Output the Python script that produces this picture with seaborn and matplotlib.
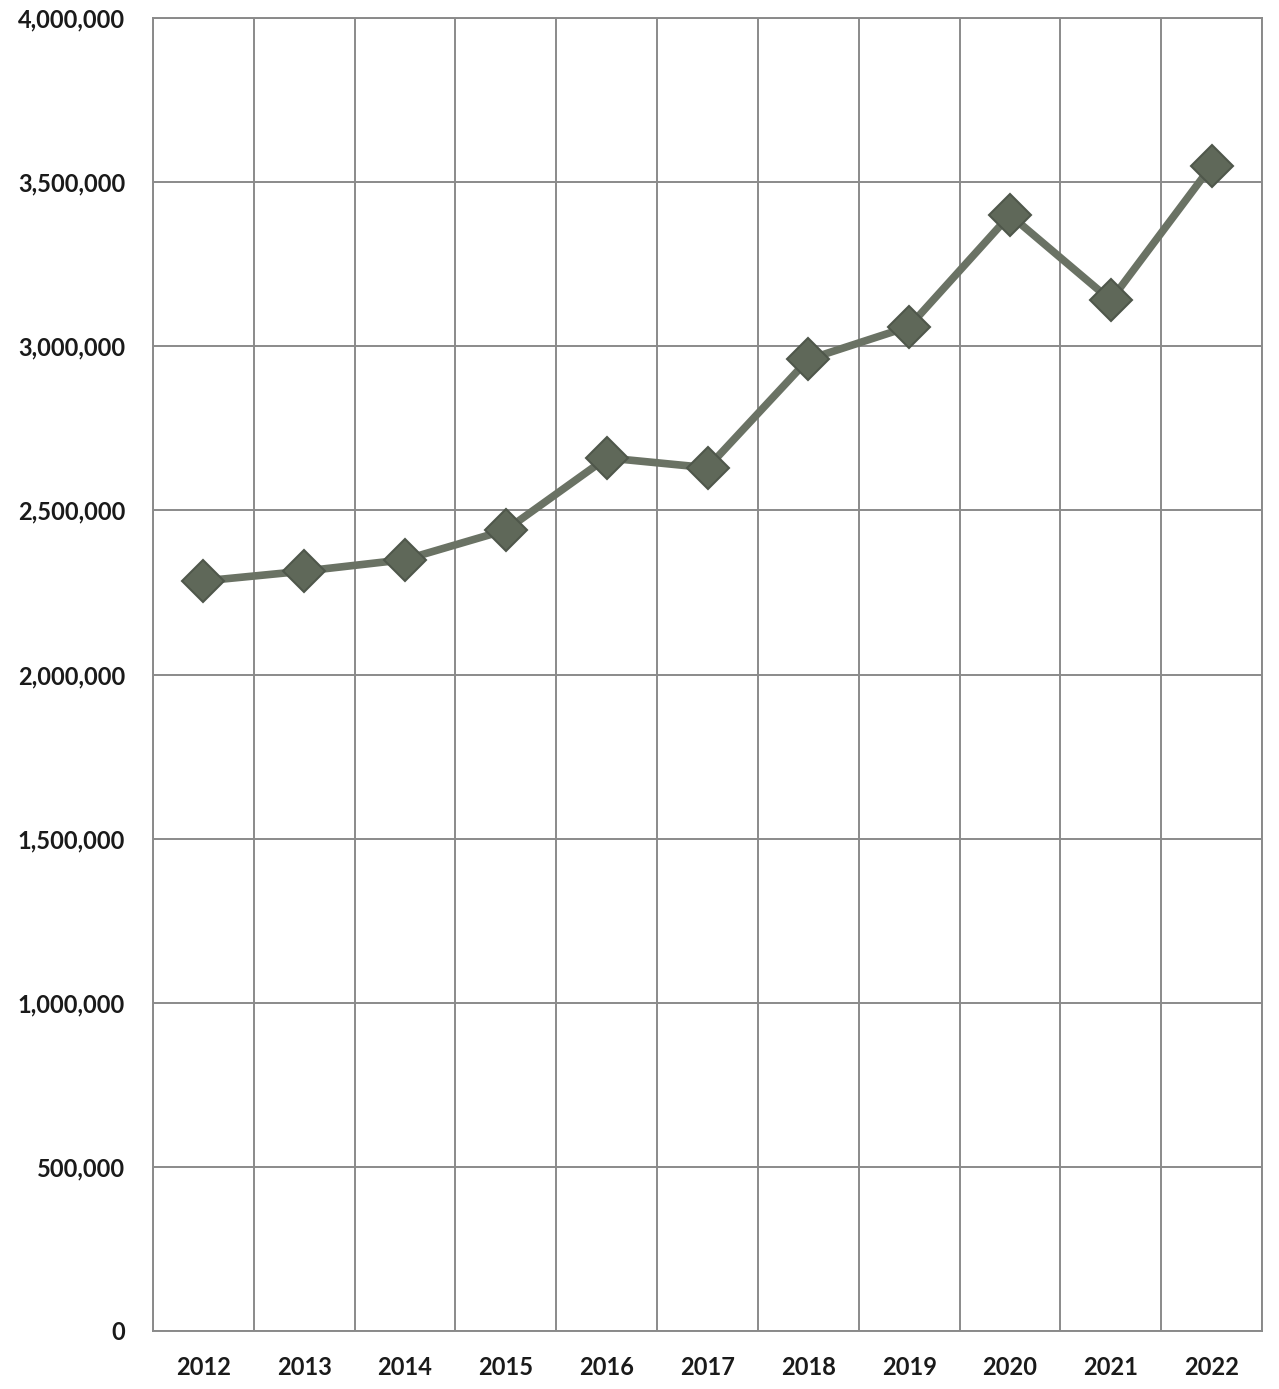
import matplotlib
matplotlib.use("Agg")
import matplotlib.pyplot as plt
import seaborn as sns
import pandas as pd
import numpy as np

years = ["2012", "2013", "2014", "2015", "2016", "2017", "2018", "2019", "2020", "2021", "2022"]
values = [2285000, 2315000, 2350000, 2440000, 2660000, 2630000, 2960000, 3060000, 3400000, 3140000, 3550000]
yticks = [0, 500000, 1000000, 1500000, 2000000, 2500000, 3000000, 3500000, 4000000]

sns.set_theme(style="white")
plt.rcParams['font.family'] = ['Lato', 'DejaVu Sans']

df = pd.DataFrame({"year": years, "value": values})

fig = plt.figure(figsize=(12.79, 13.89), dpi=100)
ax = fig.add_axes([153/1279, 1 - 1331/1389, (1262-153)/1279, (1331-18)/1389])

sns.lineplot(data=df, x="year", y="value", ax=ax, color="#6a7264", linewidth=5.5,
             marker="D", markersize=21, markerfacecolor="#5f6859",
             markeredgecolor="#4f574b", markeredgewidth=1.5, sort=False)

ax.set_xlim(-0.5, len(years) - 0.5)
ax.set_ylim(0, 4000000)
ax.set_yticks(yticks)
ax.set_yticklabels([f"{v:,}" for v in yticks])
ax.set_xticks(range(len(years)))
ax.set_xticklabels(years)
ax.set_xticks(np.arange(-0.5, len(years), 1.0), minor=True)
ax.grid(True, which="major", axis="y", color="#8a8a8a", linewidth=1.4)
ax.grid(True, which="minor", axis="x", color="#8a8a8a", linewidth=1.4)
ax.grid(False, which="major", axis="x")
ax.set_axisbelow(True)
for s in ax.spines.values():
    s.set_color("#8a8a8a")
    s.set_linewidth(1.4)
ax.tick_params(axis="both", which="both", length=0)
ax.tick_params(axis="y", pad=20, labelsize=17, labelcolor="#1a1a1a")
ax.tick_params(axis="x", pad=18, labelsize=17, labelcolor="#1a1a1a")
for lab in ax.get_xticklabels() + ax.get_yticklabels():
    lab.set_fontweight("bold")
ax.set_xlabel("")
ax.set_ylabel("")

fig.savefig("out.png", dpi=100, facecolor="white")
